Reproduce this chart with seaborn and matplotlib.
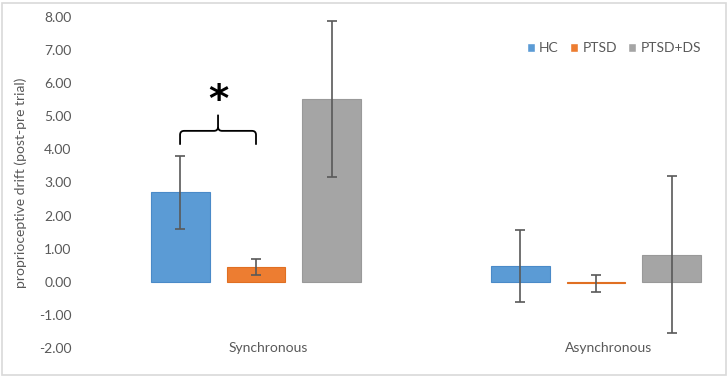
import numpy as np
import pandas as pd
import matplotlib
matplotlib.use("Agg")
import matplotlib.pyplot as plt
import seaborn as sns
from matplotlib.path import Path
from matplotlib.patches import PathPatch, Rectangle

conditions = ["Synchronous", "Asynchronous"]
groups = ["HC", "PTSD", "PTSD+DS"]
hc_vals = [2.70, 0.48]
ptsd_vals = [0.45, -0.05]
ptsdds_vals = [5.52, 0.82]
hc_err = [1.10, 1.10]
ptsd_err = [0.25, 0.25]
ptsdds_err = [2.35, 2.37]
yticks = [-2, -1, 0, 1, 2, 3, 4, 5, 6, 7, 8]

colors = ["#5B9BD5", "#ED7D31", "#A5A5A5"]
edges = ["#4A8AC8", "#E06F22", "#999999"]

rows = []
for g, vals in zip(groups, [hc_vals, ptsd_vals, ptsdds_vals]):
    for c, v in zip(conditions, vals):
        rows.append({"condition": c, "group": g, "value": v})
df = pd.DataFrame(rows)
errs = {"HC": hc_err, "PTSD": ptsd_err, "PTSD+DS": ptsdds_err}

sns.set_theme(style="white")
plt.rcParams["font.family"] = ["Lato", "DejaVu Sans"]

W, H = 728, 376
fig = plt.figure(figsize=(W / 100, H / 100), dpi=100)
left_px, right_px, top_px, bot_px = 80, 715, 17, 348
ax = fig.add_axes([left_px / W, 1 - bot_px / H, (right_px - left_px) / W, (bot_px - top_px) / H])

sns.barplot(data=df, x="condition", y="value", hue="group", order=conditions,
            hue_order=groups, palette=colors, width=0.67, gap=0.224,
            errorbar=None, ax=ax, saturation=1)

for cont, g, ec in zip(ax.containers, groups, edges):
    xs = [p.get_x() + p.get_width() / 2 for p in cont.patches]
    vals = df[df.group == g].set_index("condition").loc[conditions, "value"].values
    for p in cont.patches:
        p.set_edgecolor(ec)
        p.set_linewidth(0.8)
    ax.errorbar(xs, vals, yerr=errs[g], fmt="none", ecolor="#595959",
                elinewidth=1.2, capsize=3.5, capthick=1.2, zorder=5)

ppu = 340.0
ax.set_xlim((left_px - 256) / ppu, (right_px - 256) / ppu)
ax.set_ylim(-2, 8)
ax.set_yticks(yticks)
ax.set_yticklabels([f"{t:.2f}" for t in yticks])
ax.set_xticks([(268 - 256) / ppu, (609 - 256) / ppu])
ax.set_xticklabels(conditions)
ax.tick_params(axis="x", length=0, pad=-4, labelsize=10, labelcolor="#595959")
ax.tick_params(axis="y", length=0, pad=6, labelsize=10, labelcolor="#595959")
ax.set_xlabel("")
ax.set_ylabel("proprioceptive drift (post-pre trial)", fontsize=10, color="#595959", labelpad=9)
for s in ax.spines.values():
    s.set_visible(False)
ax.grid(False)

x0 = ax.containers[0].patches[0].get_x() + ax.containers[0].patches[0].get_width() / 2
x1 = ax.containers[1].patches[0].get_x() + ax.containers[1].patches[0].get_width() / 2
xm = (x0 + x1) / 2
yb, yl, yt = 4.56, 4.14, 5.05
dx, dy = 0.012, 0.12
verts = [(x0, yl), (x0, yb - dy), (x0, yb), (x0 + dx, yb),
         (xm - dx, yb), (xm, yb), (xm, yb + dy), (xm, yt)]
codes = [Path.MOVETO, Path.LINETO, Path.CURVE3, Path.CURVE3,
         Path.LINETO, Path.CURVE3, Path.CURVE3, Path.LINETO]
ax.add_patch(PathPatch(Path(verts, codes), fill=False, lw=1.3, color="black"))
verts2 = [(x1, yl), (x1, yb - dy), (x1, yb), (x1 - dx, yb),
          (xm + dx, yb), (xm, yb), (xm, yb + dy)]
codes2 = [Path.MOVETO, Path.LINETO, Path.CURVE3, Path.CURVE3,
          Path.LINETO, Path.CURVE3, Path.CURVE3]
ax.add_patch(PathPatch(Path(verts2, codes2), fill=False, lw=1.3, color="black"))
ax.text(xm, 5.45, "*", ha="center", va="center", fontsize=28, fontweight="bold",
        color="black", family=["DejaVu Sans"])

leg = ax.legend(loc="center left", bbox_to_anchor=(514 / W, 1 - 48 / H),
                bbox_transform=fig.transFigure, ncol=3, frameon=False,
                handlelength=0.6, handleheight=0.6, handletextpad=0.3,
                columnspacing=0.8, fontsize=10, labelcolor="#595959")

fig.patches.append(Rectangle((1.5 / W, 1.5 / H), (W - 4) / W, (H - 4) / H,
                             transform=fig.transFigure, fill=False,
                             edgecolor="#D9D9D9", lw=1.2))

fig.savefig("out.png", dpi=100)
